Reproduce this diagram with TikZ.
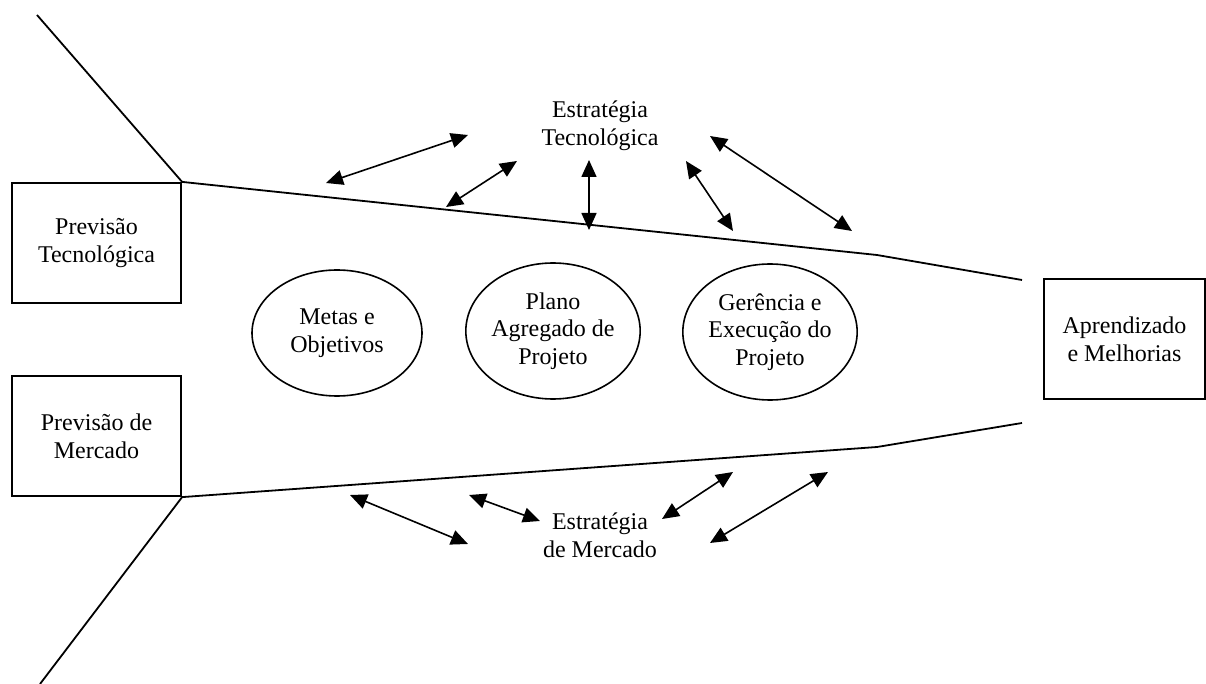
\documentclass[tikz,border=0pt]{standalone}
\usepackage{fontspec}
\setmainfont{Liberation Serif}
\usepackage{tikz}
\usetikzlibrary{shapes.geometric,arrows.meta,positioning}

\begin{document}
\begin{tikzpicture}[
        x=0.5pt,y=-0.5pt,
        font=\fontsize{12}{13.8}\selectfont,
        forecast/.style={rectangle,draw,line width=1.1pt,minimum width=84.5pt,minimum height=60pt,align=center,inner sep=0pt},
        stage/.style={ellipse,draw,line width=0.8pt,inner sep=0pt,align=center},
        strategy/.style={align=center},
        funnel/.style={line width=0.9pt},
        link/.style={{Triangle[length=8.5pt,width=7.5pt]}-{Triangle[length=8.5pt,width=7.5pt]},line width=0.8pt}
    ]

    \useasboundingbox (0,0) rectangle (1206,684);

    \node[forecast] (tech) at (96.5,243) {Previsão\\Tecnológica};
    \node[forecast] (market) at (96.5,436) {Previsão de\\Mercado};
    \node[forecast,minimum width=80.5pt] (learn) at (1124.5,339) {Aprendizado\\e Melhorias};

    \node[stage,minimum width=85pt,minimum height=63pt] (goals) at (337,333) {Metas e\\Objetivos};
    \node[stage,minimum width=84.5pt,minimum height=68pt] (plan) at (553,331) {Plano\\Agregado de\\Projeto};
    \node[stage,minimum width=81pt,minimum height=68pt] (exec) at (770,332) {Gerência e\\Execução do\\Projeto};

    \node[strategy] (techstrat) at (600,126) {Estratégia\\Tecnológica};
    \node[strategy] (marketstrat) at (600,535) {Estratégia\\de Mercado};

    % funnel outline
    \coordinate (topfar) at (37,15);
    \coordinate (botfar) at (40,684);
    \coordinate (topbend) at (877,255);
    \coordinate (botbend) at (877,447);
    \coordinate (topend) at (1022,280);
    \coordinate (botend) at (1022,423);

    \draw[funnel] (topfar) -- (tech.north east) -- (topbend) -- (topend);
    \draw[funnel] (botfar) -- (market.south east) -- (botbend) -- (botend);

    % arrows round the technology strategy
    \coordinate (ta1) at (326,183); \coordinate (tb1) at (468,135);
    \coordinate (ta2) at (446,207); \coordinate (tb2) at (517,161);
    \coordinate (ta3) at (589,160); \coordinate (tb3) at (589,230);
    \coordinate (ta4) at (686,161); \coordinate (tb4) at (733,231);
    \coordinate (ta5) at (710,136); \coordinate (tb5) at (852,231);

    % arrows round the market strategy
    \coordinate (ma1) at (350,495); \coordinate (mb1) at (468,544);
    \coordinate (ma2) at (469,495); \coordinate (mb2) at (540,521);
    \coordinate (ma3) at (662,519); \coordinate (mb3) at (733,472);
    \coordinate (ma4) at (710,543); \coordinate (mb4) at (828,472);

    \foreach \i in {1,...,5}
        \draw[link] (ta\i) -- (tb\i);
    \foreach \i in {1,...,4}
        \draw[link] (ma\i) -- (mb\i);

    \end{tikzpicture}
\end{document}
